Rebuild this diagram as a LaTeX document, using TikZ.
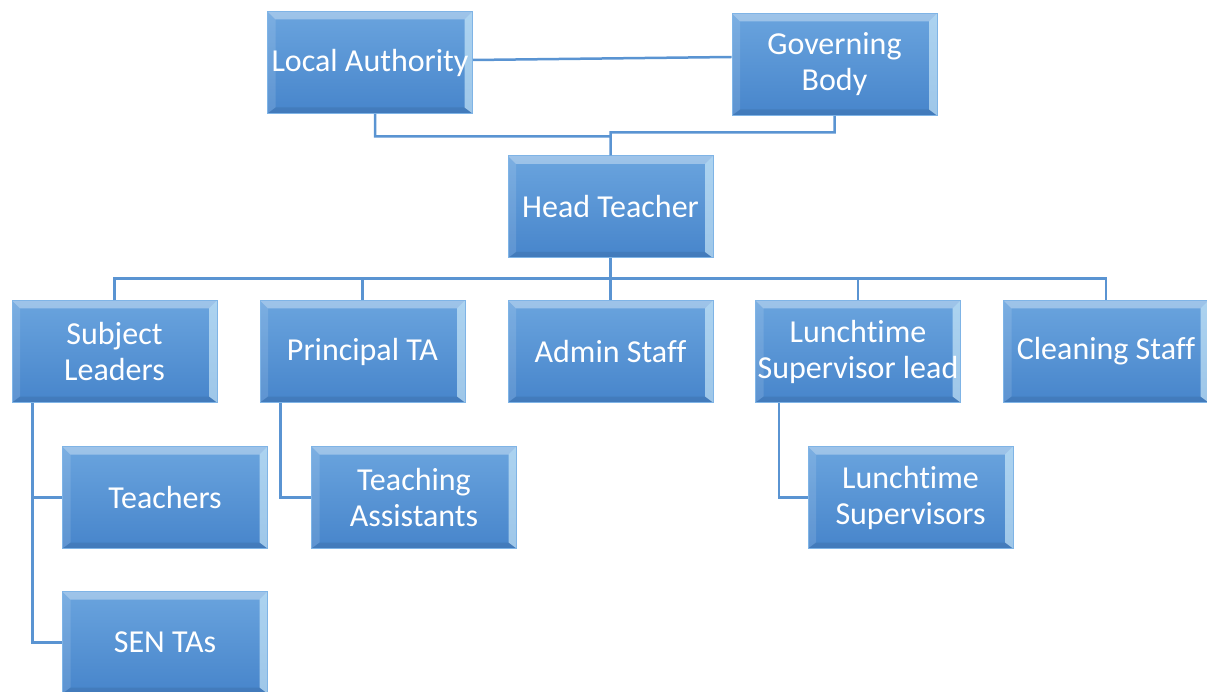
\documentclass[tikz,border=0pt]{standalone}
\usepackage{fontspec}
\setmainfont{Carlito}[Ligatures=NoCommon]
\usepackage{tikz}
\usetikzlibrary{positioning, calc}

\definecolor{roletop}{HTML}{6AA4DE}
\definecolor{rolebot}{HTML}{4785CB}
\definecolor{roleedge}{HTML}{7FB4E6}
\definecolor{wirecol}{HTML}{5A94D2}

\tikzset{
  role/.style={draw=roleedge, line width=1pt, top color=roletop, bottom color=rolebot,
    minimum width=205pt, minimum height=102pt, inner sep=0pt, text=white, align=center,
    font=\fontsize{32}{36}\selectfont,
    path picture={
      % bevel: top, left, right, bottom
      \fill[white, opacity=.35] (path picture bounding box.north west) -- (path picture bounding box.north east)
        -- ([shift={(-8pt,-8pt)}]path picture bounding box.north east) -- ([shift={(8pt,-8pt)}]path picture bounding box.north west) -- cycle;
      \fill[white, opacity=.12] (path picture bounding box.north west) -- ([shift={(8pt,-8pt)}]path picture bounding box.north west)
        -- ([shift={(8pt,6pt)}]path picture bounding box.south west) -- (path picture bounding box.south west) -- cycle;
      \fill[cyan!15!white, opacity=.6] (path picture bounding box.north east) -- ([shift={(-8pt,-8pt)}]path picture bounding box.north east)
        -- ([shift={(-8pt,6pt)}]path picture bounding box.south east) -- (path picture bounding box.south east) -- cycle;
      \fill[black, opacity=.08] (path picture bounding box.south west) -- ([shift={(8pt,6pt)}]path picture bounding box.south west)
        -- ([shift={(-8pt,6pt)}]path picture bounding box.south east) -- (path picture bounding box.south east) -- cycle;
    }},
  wire/.style={draw=wirecol, line width=2.5pt}
}

\begin{document}
\begin{tikzpicture}[x=1pt, y=1pt, on grid, node distance=248pt]
	\useasboundingbox (0,0) rectangle (1207,-692);

	% top of the chart
	\node[role] (HT) at (610.5,-207) {Head Teacher};
	\node[role] (LA) [above left=144.5pt and 240.5pt of HT] {Local Authority};
	\node[role] (GB) [above right=142.5pt and 224pt of HT] {Governing\\Body};

	% staff row
	\node[role] (AS)  [below=144.5pt of HT] {Admin Staff};
	\node[role] (PTA) [left=of AS]  {Principal TA};
	\node[role] (SL)  [left=of PTA] {Subject\\Leaders};
	\node[role] (LSL) [right=247.5pt of AS] {Lunchtime\\Supervisor lead};
	\node[role] (CS)  [right=of LSL] {Cleaning Staff};

	% under the leads
	\node[role] (T)   [below right=146pt and 50.5pt of SL]  {Teachers};
	\node[role] (SEN) [below=145pt of T] {SEN TAs};
	\node[role] (TA)  [below right=146pt and 51.5pt of PTA] {Teaching\\Assistants};
	\node[role] (LS)  [below right=146pt and 52.5pt of LSL] {Lunchtime\\Supervisors};

	%Linhas:
	\path[wire]
		([yshift=2.5pt]LA.east) -- ([yshift=7.5pt]GB.west)
		([xshift=5pt]LA.south) |- ([yshift=19pt]HT.north)
		(GB.south) |- ([yshift=23pt]HT.north) -- (HT.north);
	\foreach \kid in {SL, PTA, AS, LSL, CS}
		\draw[wire] (HT.south) -- ++(0,-20pt) -| (\kid.north);
	\draw[wire] ([xshift=21pt]SL.south west) |- (T.west);
	\draw[wire] ([xshift=21pt]SL.south west) |- (SEN.west);
	\draw[wire] ([xshift=21pt]PTA.south west) |- (TA.west);
	\draw[wire] ([xshift=24pt]LSL.south west) |- (LS.west);
\end{tikzpicture}
\end{document}
